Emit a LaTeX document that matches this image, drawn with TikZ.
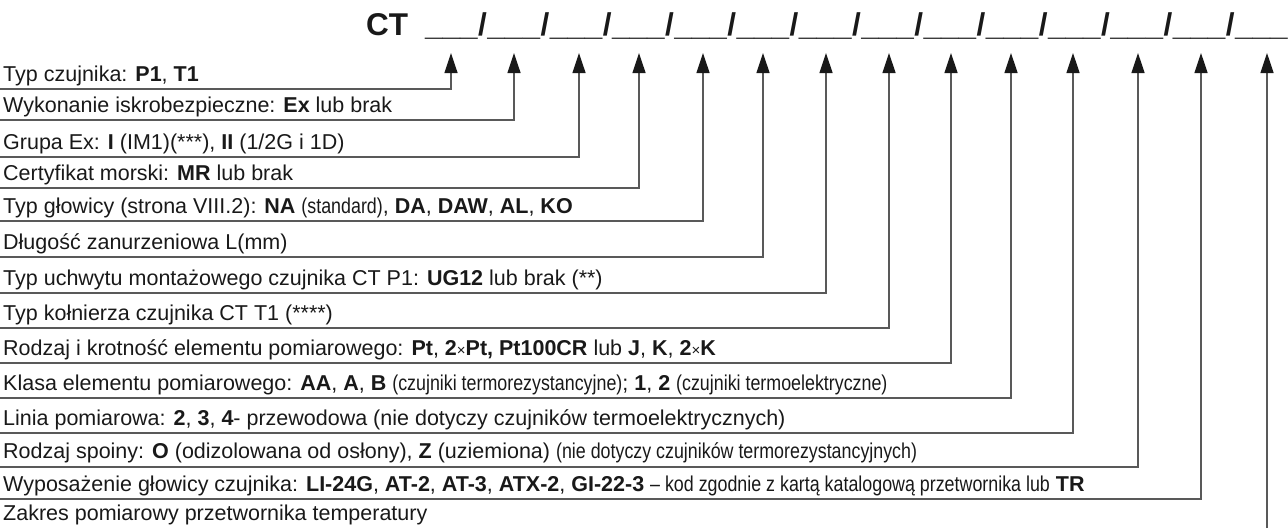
\documentclass[tikz,border=0pt]{standalone}
\usepackage{fontspec}
\setmainfont{Liberation Sans}
\newfontfamily\narrowfont[FakeStretch=0.83]{Liberation Sans}
\usepackage{xcolor}
\usepackage{tikz}
\usetikzlibrary{arrows.meta}

\newcommand{\pole}{\_\_\_\kern0.5pt/\kern0.5pt}

\begin{document}
\begin{tikzpicture}[
  x=1pt, y=-1pt,
  title/.style={anchor=base west, inner sep=0pt, text=black!90,
                font=\fontsize{31.5}{36}\selectfont\bfseries},
  lbl/.style={anchor=base west, inner sep=0pt, text=black!90,
              font=\fontsize{21.5}{24}\selectfont},
  arr/.style={-{Triangle[length=20pt, width=13pt, color=black!90]},
              line width=1.2pt, black!65},
]
\useasboundingbox (0,0) rectangle (1288,528);

%% Code line
\node[title] (ct)   at (366,35) {CT};
\node[title] (pola) at (425,35)
  {\pole\pole\pole\pole\pole\pole\pole\pole\pole\pole\pole\pole\pole\_\_\_};

%% Arrow tips under the fields
\coordinate (f1)  at (451,53);
\coordinate (f2)  at (514,53);
\coordinate (f3)  at (579,53);
\coordinate (f4)  at (639,53);
\coordinate (f5)  at (703,53);
\coordinate (f6)  at (763,53);
\coordinate (f7)  at (826,53);
\coordinate (f8)  at (889,53);
\coordinate (f9)  at (951,53);
\coordinate (f10) at (1011,53);
\coordinate (f11) at (1073,53);
\coordinate (f12) at (1138,53);
\coordinate (f13) at (1201,53);
\coordinate (f14) at (1267,53);

%% Labels
\node[lbl] (typ)      at (3,81)  {Typ czujnika: \textbf{P1}, \textbf{T1}};
\node[lbl] (wyk)      at (3,112) {Wykonanie iskrobezpieczne: \textbf{Ex} lub brak};
\node[lbl] (grupa)    at (3,149) {Grupa Ex: \textbf{I} (IM1)(***), \textbf{II} (1/2G i 1D)};
\node[lbl] (cert)     at (3,180) {Certyfikat morski: \textbf{MR} lub brak};
\node[lbl] (glow)     at (3,213) {Typ głowicy (strona VIII.2): \textbf{NA} {\narrowfont(standard)}, \textbf{DA}, \textbf{DAW}, \textbf{AL}, \textbf{KO}};
\node[lbl] (dlug)     at (3,249) {Długość zanurzeniowa L(mm)};
\node[lbl] (uchwyt)   at (3,285) {Typ uchwytu montażowego czujnika CT P1: \textbf{UG12} lub brak (**)};
\node[lbl] (kolnierz) at (3,320) {Typ kołnierza czujnika CT T1 (****)};
\node[lbl] (rodzaj)   at (3,355) {Rodzaj i krotność elementu pomiarowego: \textbf{Pt}, \textbf{2}{\fontsize{15}{15}\selectfont×}\textbf{Pt, Pt100CR} lub \textbf{J}, \textbf{K}, \textbf{2}{\fontsize{15}{15}\selectfont×}\textbf{K}};
\node[lbl] (klasa)    at (3,390) {Klasa elementu pomiarowego: \textbf{AA}, \textbf{A}, \textbf{B} {\narrowfont(czujniki termorezystancyjne)}; \textbf{1}, \textbf{2} {\narrowfont(czujniki termoelektryczne)}};
\node[lbl] (linia)    at (3,425) {Linia pomiarowa: \textbf{2}, \textbf{3}, \textbf{4}- przewodowa (nie dotyczy czujników termoelektrycznych)};
\node[lbl] (spoina)   at (3,458) {Rodzaj spoiny: \textbf{O} (odizolowana od osłony), \textbf{Z} (uziemiona) {\narrowfont(nie dotyczy czujników termorezystancyjnych)}};
\node[lbl] (wypos)    at (3,491) {Wyposażenie głowicy czujnika: \textbf{LI-24G}, \textbf{AT-2}, \textbf{AT-3}, \textbf{ATX-2}, \textbf{GI-22-3} {\narrowfont – kod zgodnie z kartą katalogową przetwornika lub} \textbf{TR}};
\node[lbl] (zakres)   at (3,520) {Zakres pomiarowy przetwornika temperatury};

%% Underline starts
\coordinate (u1)  at (0,89);
\coordinate (u2)  at (0,120);
\coordinate (u3)  at (0,157);
\coordinate (u4)  at (0,188);
\coordinate (u5)  at (0,221);
\coordinate (u6)  at (0,257);
\coordinate (u7)  at (0,293);
\coordinate (u8)  at (0,328);
\coordinate (u9)  at (0,363);
\coordinate (u10) at (0,398);
\coordinate (u11) at (0,433);
\coordinate (u12) at (0,467);
\coordinate (u13) at (0,499);
\coordinate (u14) at (1267,528);

%% Connectors
\draw[arr] (u1)  -| (f1);
\draw[arr] (u2)  -| (f2);
\draw[arr] (u3)  -| (f3);
\draw[arr] (u4)  -| (f4);
\draw[arr] (u5)  -| (f5);
\draw[arr] (u6)  -| (f6);
\draw[arr] (u7)  -| (f7);
\draw[arr] (u8)  -| (f8);
\draw[arr] (u9)  -| (f9);
\draw[arr] (u10) -| (f10);
\draw[arr] (u11) -| (f11);
\draw[arr] (u12) -| (f12);
\draw[arr] (u13) -| (f13);
\draw[arr] (u14) -- (f14);

\end{tikzpicture}
\end{document}
